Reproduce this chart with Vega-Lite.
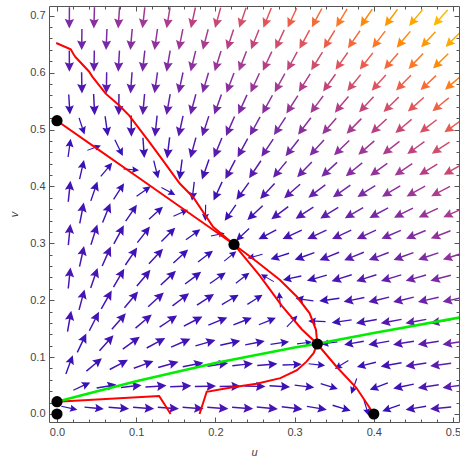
{
  "$schema": "https://vega.github.io/schema/vega-lite/v6.json",
  "width": 410,
  "height": 416,
  "autosize": {"type": "none"},
  "padding": {"left": 49, "top": 6, "right": 1, "bottom": 37},
  "background": "white",
  "config": {
    "view": {"stroke": null},
    "axis": {
      "grid": false,
      "domainColor": "#555555",
      "tickColor": "#555555",
      "labelColor": "#444444",
      "labelFont": "Liberation Sans",
      "labelFontSize": 11,
      "titleFont": "Liberation Sans",
      "titleFontSize": 11,
      "titleFontWeight": "normal",
      "titleColor": "#444444",
      "domainWidth": 1,
      "tickWidth": 1,
      "labelFlush": false,
      "labelOverlap": false
    }
  },
  "datasets": {
    "field": [
      {"u":0.0156,"v":0.0105,"dir":-12,"s":0.0155},{"u":0.0469,"v":0.0105,"dir":-5.5,"s":0.041},{"u":0.0781,"v":0.0105,"dir":-4,"s":0.062},{"u":0.1094,"v":0.0105,"dir":-3.5,"s":0.0781},{"u":0.1406,"v":0.0105,"dir":-3.5,"s":0.0893},{"u":0.1719,"v":0.0105,"dir":-3.5,"s":0.0957},{"u":0.2031,"v":0.0105,"dir":-4,"s":0.0972},{"u":0.2344,"v":0.0105,"dir":-4.5,"s":0.0939},{"u":0.2656,"v":0.0105,"dir":-5.3,"s":0.0858},{"u":0.2969,"v":0.0105,"dir":-6.7,"s":0.0728},{"u":0.3281,"v":0.0105,"dir":-9.5,"s":0.0552},{"u":0.3594,"v":0.0105,"dir":-17,"s":0.0336},{"u":0.3906,"v":0.0105,"dir":-73,"s":0.0144},{"u":0.4219,"v":0.0105,"dir":-160,"s":0.0333},{"u":0.4531,"v":0.0105,"dir":-170.5,"s":0.0691},{"u":0.4844,"v":0.0105,"dir":-174,"s":0.111},
      {"u":0.0313,"v":0.0486,"dir":25,"s":0.0318},{"u":0.0625,"v":0.0486,"dir":10,"s":0.0504},{"u":0.0938,"v":0.0486,"dir":6,"s":0.066},{"u":0.125,"v":0.0486,"dir":4,"s":0.0774},{"u":0.1563,"v":0.0486,"dir":2.5,"s":0.0841},{"u":0.1875,"v":0.0486,"dir":1.5,"s":0.086},{"u":0.2188,"v":0.0486,"dir":0.3,"s":0.0832},{"u":0.25,"v":0.0486,"dir":-1.3,"s":0.0756},{"u":0.2813,"v":0.0486,"dir":-3.7,"s":0.0633},{"u":0.3125,"v":0.0486,"dir":-7,"s":0.0464},{"u":0.3438,"v":0.0486,"dir":-18,"s":0.0253},{"u":0.375,"v":0.0486,"dir":-109.5,"s":0.0158},{"u":0.4063,"v":0.0486,"dir":-159.6,"s":0.0405},{"u":0.4375,"v":0.0486,"dir":-167.8,"s":0.0761},{"u":0.4688,"v":0.0486,"dir":-171.1,"s":0.1175},{"u":0.5,"v":0.0486,"dir":-172.8,"s":0.164},
      {"u":0.0156,"v":0.0867,"dir":69.5,"s":0.048},{"u":0.0469,"v":0.0867,"dir":40,"s":0.0544},{"u":0.0781,"v":0.0867,"dir":28,"s":0.0641},{"u":0.1094,"v":0.0867,"dir":20,"s":0.0725},{"u":0.1406,"v":0.0867,"dir":15.5,"s":0.0776},{"u":0.1719,"v":0.0867,"dir":11,"s":0.0787},{"u":0.2031,"v":0.0867,"dir":8.5,"s":0.0755},{"u":0.2344,"v":0.0867,"dir":6.5,"s":0.0676},{"u":0.2656,"v":0.0867,"dir":4.5,"s":0.0552},{"u":0.2969,"v":0.0867,"dir":2,"s":0.038},{"u":0.3281,"v":0.0867,"dir":-6,"s":0.0166},{"u":0.3594,"v":0.0867,"dir":-148,"s":0.0135},{"u":0.3906,"v":0.0867,"dir":-166,"s":0.0441},{"u":0.4219,"v":0.0867,"dir":-169.5,"s":0.0805},{"u":0.4531,"v":0.0867,"dir":-171.2,"s":0.122},{"u":0.4844,"v":0.0867,"dir":-172.2,"s":0.168},
      {"u":0.0313,"v":0.1248,"dir":64.5,"s":0.0699},{"u":0.0625,"v":0.1248,"dir":48,"s":0.0719},{"u":0.0938,"v":0.1248,"dir":36,"s":0.0752},{"u":0.125,"v":0.1248,"dir":28.5,"s":0.0771},{"u":0.1563,"v":0.1248,"dir":23.5,"s":0.0762},{"u":0.1875,"v":0.1248,"dir":16,"s":0.0716},{"u":0.2188,"v":0.1248,"dir":13,"s":0.063},{"u":0.25,"v":0.1248,"dir":11,"s":0.05},{"u":0.2813,"v":0.1248,"dir":8,"s":0.0325},{"u":0.3125,"v":0.1248,"dir":7,"s":0.0104},{"u":0.3438,"v":0.1248,"dir":-172,"s":0.0166},{"u":0.375,"v":0.1248,"dir":-170,"s":0.0484},{"u":0.4063,"v":0.1248,"dir":-170,"s":0.0849},{"u":0.4375,"v":0.1248,"dir":-170.6,"s":0.126},{"u":0.4688,"v":0.1248,"dir":-171.2,"s":0.172},{"u":0.5,"v":0.1248,"dir":-171.7,"s":0.223},
      {"u":0.0156,"v":0.1629,"dir":80,"s":0.0883},{"u":0.0469,"v":0.1629,"dir":63,"s":0.0841},{"u":0.0781,"v":0.1629,"dir":49,"s":0.0821},{"u":0.1094,"v":0.1629,"dir":40,"s":0.0802},{"u":0.1406,"v":0.1629,"dir":34,"s":0.0766},{"u":0.1719,"v":0.1629,"dir":27,"s":0.0702},{"u":0.2031,"v":0.1629,"dir":22,"s":0.0604},{"u":0.2344,"v":0.1629,"dir":21,"s":0.0466},{"u":0.2656,"v":0.1629,"dir":22,"s":0.0287},{"u":0.2969,"v":0.1629,"dir":47,"s":0.012},{"u":0.3281,"v":0.1629,"dir":178,"s":0.0215},{"u":0.3594,"v":0.1629,"dir":-172,"s":0.0531},{"u":0.3906,"v":0.1629,"dir":-170,"s":0.0896},{"u":0.4219,"v":0.1629,"dir":-169.5,"s":0.131},{"u":0.4531,"v":0.1629,"dir":-169.5,"s":0.177},{"u":0.4844,"v":0.1629,"dir":-169.8,"s":0.227},
      {"u":0.0313,"v":0.201,"dir":75,"s":0.0965},{"u":0.0625,"v":0.201,"dir":60.5,"s":0.09},{"u":0.0938,"v":0.201,"dir":50,"s":0.0843},{"u":0.125,"v":0.201,"dir":42,"s":0.0779},{"u":0.1563,"v":0.201,"dir":37,"s":0.0694},{"u":0.1875,"v":0.201,"dir":33,"s":0.058},{"u":0.2188,"v":0.201,"dir":30.5,"s":0.0433},{"u":0.25,"v":0.201,"dir":32,"s":0.0248},{"u":0.2813,"v":0.201,"dir":95,"s":0.012},{"u":0.3125,"v":0.201,"dir":172,"s":0.0266},{"u":0.3438,"v":0.201,"dir":-172,"s":0.0585},{"u":0.375,"v":0.201,"dir":-168,"s":0.0952},{"u":0.4063,"v":0.201,"dir":-166.5,"s":0.136},{"u":0.4375,"v":0.201,"dir":-166.5,"s":0.182},{"u":0.4688,"v":0.201,"dir":-167.2,"s":0.233},{"u":0.5,"v":0.201,"dir":-167.8,"s":0.288},
      {"u":0.0156,"v":0.2391,"dir":84,"s":0.108},{"u":0.0469,"v":0.2391,"dir":71,"s":0.0971},{"u":0.0781,"v":0.2391,"dir":59.5,"s":0.088},{"u":0.1094,"v":0.2391,"dir":50,"s":0.0787},{"u":0.1406,"v":0.2391,"dir":43,"s":0.068},{"u":0.1719,"v":0.2391,"dir":37,"s":0.055},{"u":0.2031,"v":0.2391,"dir":35,"s":0.039},{"u":0.2344,"v":0.2391,"dir":38,"s":0.0197},{"u":0.2656,"v":0.2391,"dir":150,"s":0.01},{"u":0.2969,"v":0.2391,"dir":-168,"s":0.0328},{"u":0.3281,"v":0.2391,"dir":-164,"s":0.0652},{"u":0.3594,"v":0.2391,"dir":-162,"s":0.102},{"u":0.3906,"v":0.2391,"dir":-162.1,"s":0.143},{"u":0.4219,"v":0.2391,"dir":-163.1,"s":0.189},{"u":0.4531,"v":0.2391,"dir":-164,"s":0.24},{"u":0.4844,"v":0.2391,"dir":-164.8,"s":0.295},
      {"u":0.0313,"v":0.2772,"dir":77.7,"s":0.102},{"u":0.0625,"v":0.2772,"dir":66,"s":0.0896},{"u":0.0938,"v":0.2772,"dir":56,"s":0.0776},{"u":0.125,"v":0.2772,"dir":47,"s":0.0647},{"u":0.1563,"v":0.2772,"dir":42,"s":0.05},{"u":0.1875,"v":0.2772,"dir":37,"s":0.0327},{"u":0.2188,"v":0.2772,"dir":39,"s":0.0123},{"u":0.25,"v":0.2772,"dir":-165,"s":0.0123},{"u":0.2813,"v":0.2772,"dir":-162,"s":0.0414},{"u":0.3125,"v":0.2772,"dir":-160,"s":0.0745},{"u":0.3438,"v":0.2772,"dir":-158,"s":0.112},{"u":0.375,"v":0.2772,"dir":-158,"s":0.153},{"u":0.4063,"v":0.2772,"dir":-159,"s":0.199},{"u":0.4375,"v":0.2772,"dir":-160.1,"s":0.25},{"u":0.4688,"v":0.2772,"dir":-161.3,"s":0.305},{"u":0.5,"v":0.2772,"dir":-162.4,"s":0.364},
      {"u":0.0156,"v":0.3153,"dir":84.5,"s":0.104},{"u":0.0469,"v":0.3153,"dir":72.5,"s":0.0887},{"u":0.0781,"v":0.3153,"dir":61.5,"s":0.074},{"u":0.1094,"v":0.3153,"dir":52,"s":0.0589},{"u":0.1406,"v":0.3153,"dir":45,"s":0.0425},{"u":0.1719,"v":0.3153,"dir":36,"s":0.0241},{"u":0.2031,"v":0.3153,"dir":12,"s":0.008},{"u":0.2344,"v":0.3153,"dir":-137,"s":0.0243},{"u":0.2656,"v":0.3153,"dir":-152,"s":0.054},{"u":0.2969,"v":0.3153,"dir":-155,"s":0.0875},{"u":0.3281,"v":0.3153,"dir":-155,"s":0.125},{"u":0.3594,"v":0.3153,"dir":-155,"s":0.167},{"u":0.3906,"v":0.3153,"dir":-155.5,"s":0.212},{"u":0.4219,"v":0.3153,"dir":-156.5,"s":0.263},{"u":0.4531,"v":0.3153,"dir":-157.5,"s":0.317},{"u":0.4844,"v":0.3153,"dir":-158.7,"s":0.377},
      {"u":0.0313,"v":0.3534,"dir":79,"s":0.0848},{"u":0.0625,"v":0.3534,"dir":68,"s":0.0675},{"u":0.0938,"v":0.3534,"dir":56,"s":0.0503},{"u":0.125,"v":0.3534,"dir":42,"s":0.0324},{"u":0.1563,"v":0.3534,"dir":24,"s":0.0139},{"u":0.1875,"v":0.3534,"dir":-91,"s":0.015},{"u":0.2188,"v":0.3534,"dir":-125,"s":0.0409},{"u":0.25,"v":0.3534,"dir":-137,"s":0.0711},{"u":0.2813,"v":0.3534,"dir":-143,"s":0.105},{"u":0.3125,"v":0.3534,"dir":-147,"s":0.143},{"u":0.3438,"v":0.3534,"dir":-148,"s":0.184},{"u":0.375,"v":0.3534,"dir":-150,"s":0.23},{"u":0.4063,"v":0.3534,"dir":-152,"s":0.28},{"u":0.4375,"v":0.3534,"dir":-153.5,"s":0.334},{"u":0.4688,"v":0.3534,"dir":-155,"s":0.393},{"u":0.5,"v":0.3534,"dir":-156.3,"s":0.457},
      {"u":0.0156,"v":0.3915,"dir":84,"s":0.078},{"u":0.0469,"v":0.3915,"dir":71,"s":0.0578},{"u":0.0781,"v":0.3915,"dir":57,"s":0.0387},{"u":0.1094,"v":0.3915,"dir":35,"s":0.0202},{"u":0.1406,"v":0.3915,"dir":-28,"s":0.0127},{"u":0.1719,"v":0.3915,"dir":-96.8,"s":0.0343},{"u":0.2031,"v":0.3915,"dir":-114.6,"s":0.0619},{"u":0.2344,"v":0.3915,"dir":-126,"s":0.0928},{"u":0.2656,"v":0.3915,"dir":-133,"s":0.127},{"u":0.2969,"v":0.3915,"dir":-139,"s":0.165},{"u":0.3281,"v":0.3915,"dir":-143,"s":0.207},{"u":0.3594,"v":0.3915,"dir":-145.5,"s":0.252},{"u":0.3906,"v":0.3915,"dir":-147.5,"s":0.302},{"u":0.4219,"v":0.3915,"dir":-149.2,"s":0.356},{"u":0.4531,"v":0.3915,"dir":-150.8,"s":0.415},{"u":0.4844,"v":0.3915,"dir":-152.4,"s":0.478},
      {"u":0.0313,"v":0.4296,"dir":77,"s":0.0449},{"u":0.0625,"v":0.4296,"dir":50,"s":0.024},{"u":0.0938,"v":0.4296,"dir":-5,"s":0.0119},{"u":0.125,"v":0.4296,"dir":-76,"s":0.031},{"u":0.1563,"v":0.4296,"dir":-97.5,"s":0.0578},{"u":0.1875,"v":0.4296,"dir":-109.3,"s":0.0872},{"u":0.2188,"v":0.4296,"dir":-117.6,"s":0.119},{"u":0.25,"v":0.4296,"dir":-124,"s":0.154},{"u":0.2813,"v":0.4296,"dir":-129.4,"s":0.192},{"u":0.3125,"v":0.4296,"dir":-133.8,"s":0.234},{"u":0.3438,"v":0.4296,"dir":-137.6,"s":0.28},{"u":0.375,"v":0.4296,"dir":-140.9,"s":0.33},{"u":0.4063,"v":0.4296,"dir":-143.7,"s":0.383},{"u":0.4375,"v":0.4296,"dir":-146.2,"s":0.442},{"u":0.4688,"v":0.4296,"dir":-148.4,"s":0.504},{"u":0.5,"v":0.4296,"dir":-150.3,"s":0.571},
      {"u":0.0156,"v":0.4677,"dir":82,"s":0.0285},{"u":0.0469,"v":0.4677,"dir":20,"s":0.0089},{"u":0.0781,"v":0.4677,"dir":-64,"s":0.0275},{"u":0.1094,"v":0.4677,"dir":-86.1,"s":0.0558},{"u":0.1406,"v":0.4677,"dir":-97,"s":0.0854},{"u":0.1719,"v":0.4677,"dir":-105.3,"s":0.117},{"u":0.2031,"v":0.4677,"dir":-112.4,"s":0.15},{"u":0.2344,"v":0.4677,"dir":-118.4,"s":0.186},{"u":0.2656,"v":0.4677,"dir":-123.7,"s":0.225},{"u":0.2969,"v":0.4677,"dir":-128.3,"s":0.267},{"u":0.3281,"v":0.4677,"dir":-132.3,"s":0.313},{"u":0.3594,"v":0.4677,"dir":-135.9,"s":0.362},{"u":0.3906,"v":0.4677,"dir":-139,"s":0.416},{"u":0.4219,"v":0.4677,"dir":-141.8,"s":0.473},{"u":0.4531,"v":0.4677,"dir":-144.2,"s":0.535},{"u":0.4844,"v":0.4677,"dir":-146.4,"s":0.602},
      {"u":0.0313,"v":0.5058,"dir":-72,"s":0.0224},{"u":0.0625,"v":0.5058,"dir":-82.1,"s":0.0539},{"u":0.0938,"v":0.5058,"dir":-89.4,"s":0.0854},{"u":0.125,"v":0.5058,"dir":-96,"s":0.118},{"u":0.1563,"v":0.5058,"dir":-102.3,"s":0.151},{"u":0.1875,"v":0.5058,"dir":-108.2,"s":0.186},{"u":0.2188,"v":0.5058,"dir":-113.6,"s":0.223},{"u":0.25,"v":0.5058,"dir":-118.6,"s":0.263},{"u":0.2813,"v":0.5058,"dir":-123.2,"s":0.305},{"u":0.3125,"v":0.5058,"dir":-127.3,"s":0.351},{"u":0.3438,"v":0.5058,"dir":-131,"s":0.401},{"u":0.375,"v":0.5058,"dir":-134.4,"s":0.454},{"u":0.4063,"v":0.5058,"dir":-137.3,"s":0.512},{"u":0.4375,"v":0.5058,"dir":-140,"s":0.573},{"u":0.4688,"v":0.5058,"dir":-142.4,"s":0.639},{"u":0.5,"v":0.5058,"dir":-144.6,"s":0.71},
      {"u":0.0156,"v":0.5439,"dir":-86.5,"s":0.051},{"u":0.0469,"v":0.5439,"dir":-87.1,"s":0.085},{"u":0.0781,"v":0.5439,"dir":-90.6,"s":0.119},{"u":0.1094,"v":0.5439,"dir":-95.1,"s":0.154},{"u":0.1406,"v":0.5439,"dir":-99.9,"s":0.189},{"u":0.1719,"v":0.5439,"dir":-104.8,"s":0.226},{"u":0.2031,"v":0.5439,"dir":-109.7,"s":0.264},{"u":0.2344,"v":0.5439,"dir":-114.3,"s":0.305},{"u":0.2656,"v":0.5439,"dir":-118.7,"s":0.349},{"u":0.2969,"v":0.5439,"dir":-122.7,"s":0.395},{"u":0.3281,"v":0.5439,"dir":-126.5,"s":0.445},{"u":0.3594,"v":0.5439,"dir":-129.9,"s":0.498},{"u":0.3906,"v":0.5439,"dir":-133,"s":0.556},{"u":0.4219,"v":0.5439,"dir":-135.9,"s":0.617},{"u":0.4531,"v":0.5439,"dir":-138.5,"s":0.682},{"u":0.4844,"v":0.5439,"dir":-140.8,"s":0.752},
      {"u":0.0313,"v":0.582,"dir":-89,"s":0.121},{"u":0.0625,"v":0.582,"dir":-90.9,"s":0.158},{"u":0.0938,"v":0.582,"dir":-94.1,"s":0.194},{"u":0.125,"v":0.582,"dir":-98,"s":0.232},{"u":0.1563,"v":0.582,"dir":-102.1,"s":0.27},{"u":0.1875,"v":0.582,"dir":-106.4,"s":0.31},{"u":0.2188,"v":0.582,"dir":-110.6,"s":0.353},{"u":0.25,"v":0.582,"dir":-114.7,"s":0.397},{"u":0.2813,"v":0.582,"dir":-118.6,"s":0.444},{"u":0.3125,"v":0.582,"dir":-122.3,"s":0.494},{"u":0.3438,"v":0.582,"dir":-125.8,"s":0.548},{"u":0.375,"v":0.582,"dir":-129,"s":0.605},{"u":0.4063,"v":0.582,"dir":-131.9,"s":0.666},{"u":0.4375,"v":0.582,"dir":-134.6,"s":0.731},{"u":0.4688,"v":0.582,"dir":-137.1,"s":0.8},{"u":0.5,"v":0.582,"dir":-139.4,"s":0.874},
      {"u":0.0156,"v":0.6201,"dir":-89.8,"s":0.161},{"u":0.0469,"v":0.6201,"dir":-90.9,"s":0.2},{"u":0.0781,"v":0.6201,"dir":-93.3,"s":0.239},{"u":0.1094,"v":0.6201,"dir":-96.4,"s":0.279},{"u":0.1406,"v":0.6201,"dir":-99.9,"s":0.319},{"u":0.1719,"v":0.6201,"dir":-103.6,"s":0.361},{"u":0.2031,"v":0.6201,"dir":-107.4,"s":0.405},{"u":0.2344,"v":0.6201,"dir":-111.2,"s":0.45},{"u":0.2656,"v":0.6201,"dir":-114.9,"s":0.498},{"u":0.2969,"v":0.6201,"dir":-118.5,"s":0.549},{"u":0.3281,"v":0.6201,"dir":-121.9,"s":0.603},{"u":0.3594,"v":0.6201,"dir":-125.1,"s":0.661},{"u":0.3906,"v":0.6201,"dir":-128.1,"s":0.721},{"u":0.4219,"v":0.6201,"dir":-130.9,"s":0.786},{"u":0.4531,"v":0.6201,"dir":-133.5,"s":0.855},{"u":0.4844,"v":0.6201,"dir":-135.9,"s":0.928},
      {"u":0.0313,"v":0.6582,"dir":-90.7,"s":0.247},{"u":0.0625,"v":0.6582,"dir":-92.5,"s":0.288},{"u":0.0938,"v":0.6582,"dir":-95,"s":0.33},{"u":0.125,"v":0.6582,"dir":-98,"s":0.373},{"u":0.1563,"v":0.6582,"dir":-101.3,"s":0.416},{"u":0.1875,"v":0.6582,"dir":-104.7,"s":0.461},{"u":0.2188,"v":0.6582,"dir":-108.2,"s":0.508},{"u":0.25,"v":0.6582,"dir":-111.7,"s":0.558},{"u":0.2813,"v":0.6582,"dir":-115.1,"s":0.609},{"u":0.3125,"v":0.6582,"dir":-118.4,"s":0.664},{"u":0.3438,"v":0.6582,"dir":-121.5,"s":0.721},{"u":0.375,"v":0.6582,"dir":-124.5,"s":0.782},{"u":0.4063,"v":0.6582,"dir":-127.4,"s":0.847},{"u":0.4375,"v":0.6582,"dir":-130,"s":0.916},{"u":0.4688,"v":0.6582,"dir":-132.5,"s":0.988},{"u":0.5,"v":0.6582,"dir":-134.8,"s":1.065},
      {"u":0.0156,"v":0.6963,"dir":-90.3,"s":0.298},{"u":0.0469,"v":0.6963,"dir":-91.8,"s":0.342},{"u":0.0781,"v":0.6963,"dir":-93.9,"s":0.386},{"u":0.1094,"v":0.6963,"dir":-96.4,"s":0.431},{"u":0.1406,"v":0.6963,"dir":-99.3,"s":0.476},{"u":0.1719,"v":0.6963,"dir":-102.4,"s":0.523},{"u":0.2031,"v":0.6963,"dir":-105.6,"s":0.571},{"u":0.2344,"v":0.6963,"dir":-108.8,"s":0.622},{"u":0.2656,"v":0.6963,"dir":-112,"s":0.674},{"u":0.2969,"v":0.6963,"dir":-115.2,"s":0.73},{"u":0.3281,"v":0.6963,"dir":-118.3,"s":0.788},{"u":0.3594,"v":0.6963,"dir":-121.2,"s":0.849},{"u":0.3906,"v":0.6963,"dir":-124,"s":0.914},{"u":0.4219,"v":0.6963,"dir":-126.7,"s":0.982},{"u":0.4531,"v":0.6963,"dir":-129.2,"s":1.054},{"u":0.4844,"v":0.6963,"dir":-131.6,"s":1.131}
    ],
    "nullclines": [
      {"seg":"a","k":0,"u":-0.001,"v":0.652},{"seg":"a","k":1,"u":0.0173,"v":0.641},{"seg":"a","k":2,"u":0.0215,"v":0.631},{"seg":"a","k":3,"u":0.0236,"v":0.627},{"seg":"a","k":4,"u":0.0404,"v":0.602},{"seg":"a","k":5,"u":0.0446,"v":0.593},{"seg":"a","k":6,"u":0.0615,"v":0.563},{"seg":"a","k":7,"u":0.078,"v":0.543},{"seg":"a","k":8,"u":0.091,"v":0.525},{"seg":"a","k":9,"u":0.1035,"v":0.502},{"seg":"a","k":10,"u":0.116,"v":0.479},{"seg":"a","k":11,"u":0.133,"v":0.447},{"seg":"a","k":12,"u":0.155,"v":0.405},{"seg":"a","k":13,"u":0.172,"v":0.381},{"seg":"a","k":14,"u":0.197,"v":0.329},{"seg":"a","k":15,"u":0.2235,"v":0.298},{"seg":"a","k":16,"u":0.256,"v":0.243},{"seg":"a","k":17,"u":0.284,"v":0.19},{"seg":"a","k":18,"u":0.309,"v":0.149},{"seg":"a","k":19,"u":0.3287,"v":0.123},{"seg":"a","k":20,"u":0.353,"v":0.083},{"seg":"a","k":21,"u":0.378,"v":0.046},{"seg":"a","k":22,"u":0.4,"v":0.0},
      {"seg":"b","k":0,"u":0.0,"v":0.5155},{"seg":"b","k":1,"u":0.05,"v":0.4668},{"seg":"b","k":2,"u":0.1,"v":0.4182},{"seg":"b","k":3,"u":0.15,"v":0.3696},{"seg":"b","k":4,"u":0.197,"v":0.3238},{"seg":"b","k":5,"u":0.2235,"v":0.298},{"seg":"b","k":6,"u":0.252,"v":0.268},{"seg":"b","k":7,"u":0.2816,"v":0.2355},{"seg":"b","k":8,"u":0.303,"v":0.206},{"seg":"b","k":9,"u":0.319,"v":0.177},{"seg":"b","k":10,"u":0.327,"v":0.148},{"seg":"b","k":11,"u":0.3287,"v":0.123},{"seg":"b","k":12,"u":0.324,"v":0.107},{"seg":"b","k":13,"u":0.315,"v":0.092},{"seg":"b","k":14,"u":0.303,"v":0.077},{"seg":"b","k":15,"u":0.282,"v":0.063},{"seg":"b","k":16,"u":0.252,"v":0.053},{"seg":"b","k":17,"u":0.218,"v":0.046},{"seg":"b","k":18,"u":0.189,"v":0.039},{"seg":"b","k":19,"u":0.18,"v":0.0},
      {"seg":"c","k":0,"u":0.0,"v":0.0216},{"seg":"c","k":1,"u":0.129,"v":0.0316},{"seg":"c","k":2,"u":0.1435,"v":0.0}
    ],
    "separatrix": [
      {"k":0,"u":0.0,"v":0.0216},{"k":1,"u":0.03,"v":0.0325},{"k":2,"u":0.1,"v":0.0575},{"k":3,"u":0.2,"v":0.0895},{"k":4,"u":0.3,"v":0.117},{"k":5,"u":0.3287,"v":0.1235},{"k":6,"u":0.4,"v":0.1425},{"k":7,"u":0.51,"v":0.17}
    ],
    "equilibria": [
      {"u":0.0,"v":0.0},{"u":0.0,"v":0.0216},{"u":0.0,"v":0.5155},{"u":0.2235,"v":0.298},{"u":0.3287,"v":0.123},{"u":0.4,"v":0.0}
    ]
  },
  "resolve": {"axis": {"x": "independent", "y": "independent"}},
  "layer": [
    {
      "data": {"name": "field"},
      "mark": {
        "type": "point",
        "shape": "M0,-1L0.44,-0.1L0.07,-0.22L0.07,1L-0.07,1L-0.07,-0.22L-0.44,-0.1Z",
        "filled": true,
        "opacity": 1,
        "strokeWidth": 0,
        "clip": true
      },
      "encoding": {
        "x": {
          "field": "u", "type": "quantitative",
          "scale": {"domain": [-0.0101, 0.5076], "nice": false, "zero": false},
          "axis": {
            "orient": "bottom", "values": [0, 0.1, 0.2, 0.3, 0.4, 0.5], "format": ".1f",
            "tickSize": -5, "labelPadding": 9,
            "title": "u", "titleFontStyle": "italic", "titleBaseline": "middle", "titleY": 30
          }
        },
        "y": {
          "field": "v", "type": "quantitative",
          "scale": {"domain": [-0.0141, 0.7171], "nice": false, "zero": false},
          "axis": {
            "orient": "left", "values": [0, 0.1, 0.2, 0.3, 0.4, 0.5, 0.6, 0.7], "format": ".1f",
            "tickSize": -5, "labelPadding": 9,
            "title": "v", "titleFontStyle": "italic", "titleBaseline": "middle", "titleX": -35
          }
        },
        "angle": {"field": "dir", "type": "quantitative", "scale": {"domain": [-180, 180], "range": [270, -90]}, "legend": null},
        "size": {"field": "s", "type": "quantitative", "scale": {"type": "log", "domain": [0.003, 0.08], "range": [90, 450], "clamp": true}, "legend": null},
        "color": {
          "field": "s", "type": "quantitative",
          "scale": {
            "domain": [0, 0.06, 0.16, 0.3, 0.45, 0.6, 0.75, 0.9, 1.13],
            "range": ["#3210bb", "#3b12b6", "#5a1bae", "#7b2ba5", "#a33c92", "#cd4e6e", "#ef6342", "#ff840c", "#ffb700"],
            "clamp": true
          },
          "legend": null
        }
      }
    },
    {
      "data": {"name": "nullclines"},
      "mark": {"type": "line", "color": "#ff0000", "strokeWidth": 2, "clip": true},
      "encoding": {
        "x": {
          "field": "u", "type": "quantitative",
          "scale": {"domain": [-0.0101, 0.5076], "nice": false, "zero": false},
          "axis": {"orient": "top", "values": [0, 0.1, 0.2, 0.3, 0.4, 0.5], "tickSize": -5, "labels": false, "title": null}
        },
        "y": {
          "field": "v", "type": "quantitative",
          "scale": {"domain": [-0.0141, 0.7171], "nice": false, "zero": false},
          "axis": {"orient": "right", "values": [0, 0.1, 0.2, 0.3, 0.4, 0.5, 0.6, 0.7], "tickSize": -5, "labels": false, "title": null}
        },
        "detail": {"field": "seg"},
        "order": {"field": "k"}
      }
    },
    {
      "data": {"name": "separatrix"},
      "mark": {"type": "line", "color": "#00ee00", "strokeWidth": 2.6, "clip": true},
      "encoding": {
        "x": {
          "field": "u", "type": "quantitative",
          "scale": {"domain": [-0.0101, 0.5076], "nice": false, "zero": false},
          "axis": {"orient": "bottom", "values": [0.02, 0.04, 0.06, 0.08, 0.12, 0.14, 0.16, 0.18, 0.22, 0.24, 0.26, 0.28, 0.32, 0.34, 0.36, 0.38, 0.42, 0.44, 0.46, 0.48], "tickSize": -3, "labels": false, "domain": false, "title": null}
        },
        "y": {
          "field": "v", "type": "quantitative",
          "scale": {"domain": [-0.0141, 0.7171], "nice": false, "zero": false},
          "axis": {"orient": "left", "values": [0.02, 0.04, 0.06, 0.08, 0.12, 0.14, 0.16, 0.18, 0.22, 0.24, 0.26, 0.28, 0.32, 0.34, 0.36, 0.38, 0.42, 0.44, 0.46, 0.48, 0.52, 0.54, 0.56, 0.58, 0.62, 0.64, 0.66, 0.68], "tickSize": -3, "labels": false, "domain": false, "title": null}
        },
        "order": {"field": "k"}
      }
    },
    {
      "data": {"name": "equilibria"},
      "mark": {"type": "point", "shape": "circle", "filled": true, "color": "#000000", "opacity": 1, "size": 125},
      "encoding": {
        "x": {
          "field": "u", "type": "quantitative",
          "scale": {"domain": [-0.0101, 0.5076], "nice": false, "zero": false},
          "axis": {"orient": "top", "values": [0.02, 0.04, 0.06, 0.08, 0.12, 0.14, 0.16, 0.18, 0.22, 0.24, 0.26, 0.28, 0.32, 0.34, 0.36, 0.38, 0.42, 0.44, 0.46, 0.48], "tickSize": -3, "labels": false, "domain": false, "title": null}
        },
        "y": {
          "field": "v", "type": "quantitative",
          "scale": {"domain": [-0.0141, 0.7171], "nice": false, "zero": false},
          "axis": {"orient": "right", "values": [0.02, 0.04, 0.06, 0.08, 0.12, 0.14, 0.16, 0.18, 0.22, 0.24, 0.26, 0.28, 0.32, 0.34, 0.36, 0.38, 0.42, 0.44, 0.46, 0.48, 0.52, 0.54, 0.56, 0.58, 0.62, 0.64, 0.66, 0.68], "tickSize": -3, "labels": false, "domain": false, "title": null}
        }
      }
    }
  ]
}
